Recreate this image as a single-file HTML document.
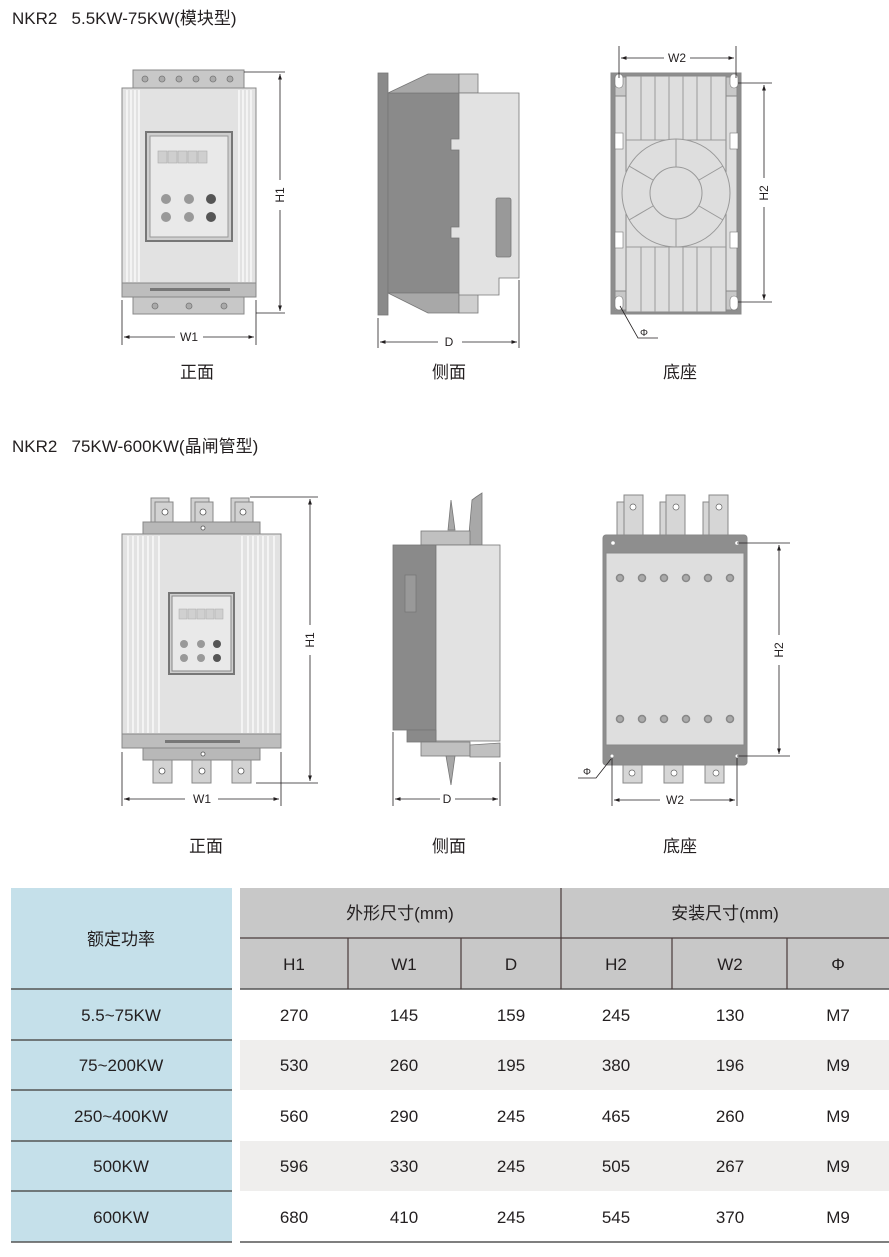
<!DOCTYPE html>
<html><head><meta charset="utf-8"><style>
html,body{margin:0;padding:0;background:#fff;}
body{width:889px;height:1252px;overflow:hidden;}
svg text{font-family:"Liberation Sans","Noto Sans CJK SC",sans-serif;fill:#231f20;}
</style></head><body>
<svg width="889" height="1252" viewBox="0 0 889 1252" xmlns="http://www.w3.org/2000/svg">
<defs>
<marker id="a" viewBox="0 0 10 10" refX="10" refY="5" markerWidth="7" markerHeight="7" orient="auto-start-reverse"><path d="M0,1.5L10,5L0,8.5z" fill="#231f20"/></marker>
</defs>
<!-- titles -->
<text x="12" y="24" font-size="17">NKR2&#160;&#160;&#160;5.5KW-75KW(模块型)</text>
<text x="12" y="452" font-size="17">NKR2&#160;&#160;&#160;75KW-600KW(晶闸管型)</text>

<!-- ===== TOP FRONT ===== -->
<g stroke="#888" stroke-width="1">
<rect x="133" y="70" width="111" height="19" fill="#c8c8c8"/>
<rect x="122" y="88" width="134" height="195" fill="#e2e2e2"/>
<rect x="122" y="283" width="134" height="14" fill="#bdbdbd"/>
<rect x="133" y="297" width="111" height="17" fill="#c8c8c8"/>
<rect x="146" y="132" width="86" height="109" fill="#cfcfcf" stroke="#777" stroke-width="2"/>
<rect x="150" y="136" width="78" height="101" fill="#e9e9e9" stroke="#999"/>
</g>
<g stroke="#fff" stroke-width="1.2">
<line x1="127" y1="90" x2="127" y2="282"/><line x1="131" y1="90" x2="131" y2="282"/><line x1="135" y1="90" x2="135" y2="282"/><line x1="139" y1="90" x2="139" y2="282"/>
<line x1="239" y1="90" x2="239" y2="282"/><line x1="243" y1="90" x2="243" y2="282"/><line x1="247" y1="90" x2="247" y2="282"/><line x1="251" y1="90" x2="251" y2="282"/>
</g>
<g fill="#aaa" stroke="#777" stroke-width="0.8">
<circle cx="145" cy="79" r="3"/><circle cx="162" cy="79" r="3"/><circle cx="179" cy="79" r="3"/><circle cx="196" cy="79" r="3"/><circle cx="213" cy="79" r="3"/><circle cx="230" cy="79" r="3"/>
<circle cx="155" cy="306" r="3"/><circle cx="189" cy="306" r="3"/><circle cx="224" cy="306" r="3"/>
</g>
<g fill="#cfcfcf" stroke="#aaa" stroke-width="0.6">
<rect x="158" y="151" width="9" height="12"/><rect x="168" y="151" width="9" height="12"/><rect x="178" y="151" width="9" height="12"/><rect x="188" y="151" width="9" height="12"/><rect x="198" y="151" width="9" height="12"/>
</g>
<g fill="#999"><circle cx="166" cy="199" r="5"/><circle cx="189" cy="199" r="5"/><circle cx="166" cy="217" r="5"/><circle cx="189" cy="217" r="5"/></g>
<g fill="#555"><circle cx="211" cy="199" r="5"/><circle cx="211" cy="217" r="5"/></g>
<rect x="150" y="288" width="80" height="3" fill="#777"/>
<!-- dims top front -->
<g stroke="#231f20" stroke-width="0.8" fill="none">
<line x1="244" y1="72" x2="285" y2="72"/><line x1="256" y1="313" x2="285" y2="313"/>
<line x1="280" y1="74" x2="280" y2="180" marker-start="url(#a)"/><line x1="280" y1="210" x2="280" y2="311" marker-end="url(#a)"/>
<line x1="122" y1="300" x2="122" y2="345"/><line x1="256" y1="300" x2="256" y2="345"/>
<line x1="124" y1="337" x2="175" y2="337" marker-start="url(#a)"/><line x1="203" y1="337" x2="254" y2="337" marker-end="url(#a)"/>
</g>
<text x="189" y="341" font-size="12" text-anchor="middle">W1</text>
<text x="0" y="0" font-size="12" text-anchor="middle" transform="translate(284,195) rotate(-90)">H1</text>

<!-- ===== TOP SIDE ===== -->
<g stroke="#777" stroke-width="0.8">
<rect x="378" y="73" width="10" height="242" fill="#8a8a8a"/>
<rect x="388" y="93" width="71" height="200" fill="#8a8a8a"/>
<polygon points="388,93 428,74 459,74 459,93" fill="#a8a8a8"/>
<rect x="459" y="74" width="19" height="19" fill="#cfcfcf"/>
<polygon points="388,293 428,313 459,313 459,293" fill="#a8a8a8"/>
<rect x="459" y="293" width="19" height="20" fill="#cfcfcf"/>
<polygon points="459,93 519,93 519,278 499,278 499,295 459,295 459,238 451,238 451,227 459,227 459,150 451,150 451,139 459,139" fill="#e2e2e2"/>
<rect x="496" y="198" width="15" height="59" rx="2" fill="#999"/>
</g>
<g stroke="#231f20" stroke-width="0.8" fill="none">
<line x1="378" y1="318" x2="378" y2="348"/><line x1="519" y1="280" x2="519" y2="348"/>
<line x1="380" y1="342" x2="438" y2="342" marker-start="url(#a)"/><line x1="462" y1="342" x2="517" y2="342" marker-end="url(#a)"/>
</g>
<text x="449" y="346" font-size="12" text-anchor="middle">D</text>

<!-- ===== TOP BASE ===== -->
<g stroke="#888" stroke-width="1">
<rect x="611" y="73" width="130" height="241" fill="#8e8e8e"/>
<rect x="615" y="77" width="122" height="233" fill="#c8c8c8"/>
<rect x="626" y="76" width="100" height="236" fill="#dedede"/>
<rect x="615" y="96" width="11" height="195" fill="#dedede"/>
<rect x="726" y="96" width="11" height="195" fill="#dedede"/>
</g>
<g stroke="#999" stroke-width="1">
<line x1="641" y1="76" x2="641" y2="140"/><line x1="655" y1="76" x2="655" y2="140"/><line x1="669" y1="76" x2="669" y2="140"/><line x1="683" y1="76" x2="683" y2="140"/><line x1="697" y1="76" x2="697" y2="140"/><line x1="711" y1="76" x2="711" y2="140"/>
<line x1="641" y1="247" x2="641" y2="312"/><line x1="655" y1="247" x2="655" y2="312"/><line x1="669" y1="247" x2="669" y2="312"/><line x1="683" y1="247" x2="683" y2="312"/><line x1="697" y1="247" x2="697" y2="312"/><line x1="711" y1="247" x2="711" y2="312"/>
<line x1="626" y1="140" x2="726" y2="140"/><line x1="626" y1="247" x2="726" y2="247"/>
<circle cx="676" cy="193" r="54" fill="#dedede"/>
<circle cx="676" cy="193" r="26" fill="#dedede"/>
<line x1="676" y1="139" x2="676" y2="167"/><line x1="676" y1="219" x2="676" y2="247"/>
<line x1="629" y1="166" x2="653" y2="180"/><line x1="723" y1="166" x2="699" y2="180"/>
<line x1="629" y1="220" x2="653" y2="206"/><line x1="723" y1="220" x2="699" y2="206"/>
</g>
<g fill="#fff" stroke="#777" stroke-width="0.6">
<rect x="615" y="74" width="8" height="14" rx="4"/><rect x="730" y="74" width="8" height="14" rx="4"/>
<rect x="615" y="296" width="8" height="14" rx="4"/><rect x="730" y="296" width="8" height="14" rx="4"/>
<rect x="615" y="133" width="8" height="16"/><rect x="730" y="133" width="8" height="16"/>
<rect x="615" y="232" width="8" height="16"/><rect x="730" y="232" width="8" height="16"/>
</g>
<g stroke="#231f20" stroke-width="0.8" fill="none">
<line x1="619" y1="46" x2="619" y2="78"/><line x1="736" y1="46" x2="736" y2="78"/>
<line x1="621" y1="58" x2="664" y2="58" marker-start="url(#a)"/><line x1="690" y1="58" x2="734" y2="58" marker-end="url(#a)"/>
<line x1="738" y1="83" x2="772" y2="83"/><line x1="738" y1="302" x2="772" y2="302"/>
<line x1="764" y1="85" x2="764" y2="178" marker-start="url(#a)"/><line x1="764" y1="207" x2="764" y2="300" marker-end="url(#a)"/>
<polyline points="658,338 638,338 620,306"/>
</g>
<text x="677" y="62" font-size="12" text-anchor="middle">W2</text>
<text x="0" y="0" font-size="12" text-anchor="middle" transform="translate(768,193) rotate(-90)">H2</text>
<text x="644" y="336" font-size="10" text-anchor="middle">Φ</text>

<text x="197" y="378" font-size="17" text-anchor="middle">正面</text>
<text x="449" y="378" font-size="17" text-anchor="middle">侧面</text>
<text x="680" y="378" font-size="17" text-anchor="middle">底座</text>

<!-- ===== BOTTOM FRONT ===== -->
<g stroke="#888" stroke-width="1" fill="#d2d2d2">
<rect x="151" y="498" width="18" height="26"/><rect x="155" y="502" width="18" height="22"/>
<rect x="191" y="498" width="18" height="26"/><rect x="195" y="502" width="18" height="22"/>
<rect x="231" y="498" width="18" height="26"/><rect x="235" y="502" width="18" height="22"/>
<rect x="143" y="522" width="117" height="12" fill="#b8b8b8"/>
<rect x="122" y="534" width="159" height="200" fill="#e2e2e2"/>
<rect x="122" y="734" width="159" height="14" fill="#bdbdbd"/>
<rect x="143" y="748" width="117" height="12" fill="#b8b8b8"/>
<rect x="153" y="760" width="19" height="23"/><rect x="192" y="760" width="19" height="23"/><rect x="232" y="760" width="19" height="23"/>
<rect x="169" y="593" width="65" height="81" fill="#cfcfcf" stroke="#777" stroke-width="2"/>
<rect x="172" y="596" width="59" height="75" fill="#e9e9e9"/>
</g>
<g stroke="#fff" stroke-width="1.2">
<line x1="128" y1="536" x2="128" y2="733"/><line x1="133" y1="536" x2="133" y2="733"/><line x1="138" y1="536" x2="138" y2="733"/><line x1="143" y1="536" x2="143" y2="733"/><line x1="148" y1="536" x2="148" y2="733"/><line x1="153" y1="536" x2="153" y2="733"/><line x1="159" y1="536" x2="159" y2="733"/>
<line x1="242" y1="536" x2="242" y2="733"/><line x1="248" y1="536" x2="248" y2="733"/><line x1="253" y1="536" x2="253" y2="733"/><line x1="258" y1="536" x2="258" y2="733"/><line x1="263" y1="536" x2="263" y2="733"/><line x1="268" y1="536" x2="268" y2="733"/><line x1="274" y1="536" x2="274" y2="733"/>
</g>
<g fill="#fff" stroke="#555" stroke-width="0.8">
<circle cx="165" cy="512" r="3"/><circle cx="203" cy="512" r="3"/><circle cx="243" cy="512" r="3"/>
<circle cx="203" cy="528" r="2"/><circle cx="203" cy="754" r="2"/>
<circle cx="162" cy="771" r="3"/><circle cx="202" cy="771" r="3"/><circle cx="241" cy="771" r="3"/>
</g>
<g fill="#d0d0d0" stroke="#aaa" stroke-width="0.5">
<rect x="179" y="609" width="8" height="10"/><rect x="188" y="609" width="8" height="10"/><rect x="197" y="609" width="8" height="10"/><rect x="206" y="609" width="8" height="10"/><rect x="215" y="609" width="8" height="10"/>
</g>
<g fill="#999"><circle cx="184" cy="644" r="4"/><circle cx="201" cy="644" r="4"/><circle cx="184" cy="658" r="4"/><circle cx="201" cy="658" r="4"/></g>
<g fill="#555"><circle cx="217" cy="644" r="4"/><circle cx="217" cy="658" r="4"/></g>
<rect x="165" y="740" width="75" height="3" fill="#777"/>
<g stroke="#231f20" stroke-width="0.8" fill="none">
<line x1="250" y1="497" x2="318" y2="497"/><line x1="256" y1="783" x2="318" y2="783"/>
<line x1="310" y1="499" x2="310" y2="625" marker-start="url(#a)"/><line x1="310" y1="655" x2="310" y2="781" marker-end="url(#a)"/>
<line x1="122" y1="752" x2="122" y2="806"/><line x1="281" y1="752" x2="281" y2="806"/>
<line x1="124" y1="799" x2="185" y2="799" marker-start="url(#a)"/><line x1="218" y1="799" x2="279" y2="799" marker-end="url(#a)"/>
</g>
<text x="202" y="803" font-size="12" text-anchor="middle">W1</text>
<text x="0" y="0" font-size="12" text-anchor="middle" transform="translate(314,640) rotate(-90)">H1</text>

<!-- ===== BOTTOM SIDE ===== -->
<g stroke="#777" stroke-width="0.8">
<polygon points="448,530 451,500 455,530" fill="#a8a8a8"/>
<polygon points="468,545 472,500 476,497 482,493 482,545" fill="#a8a8a8"/>
<rect x="421" y="531" width="49" height="14" fill="#c0c0c0"/>
<rect x="393" y="545" width="43" height="185" fill="#8a8a8a"/>
<rect x="436" y="545" width="64" height="196" fill="#e2e2e2"/>
<rect x="405" y="575" width="11" height="37" fill="#999"/>
<rect x="407" y="730" width="29" height="12" fill="#8a8a8a"/>
<rect x="421" y="742" width="49" height="14" fill="#c0c0c0"/>
<polygon points="470,745 500,743 500,757 470,757" fill="#c0c0c0"/>
<polygon points="446,756 451,785 455,756" fill="#a8a8a8"/>
</g>
<g stroke="#231f20" stroke-width="0.8" fill="none">
<line x1="393" y1="732" x2="393" y2="806"/><line x1="500" y1="762" x2="500" y2="806"/>
<line x1="395" y1="799" x2="440" y2="799" marker-start="url(#a)"/><line x1="455" y1="799" x2="498" y2="799" marker-end="url(#a)"/>
</g>
<text x="447" y="803" font-size="12" text-anchor="middle">D</text>

<!-- ===== BOTTOM BASE ===== -->
<g stroke="#888" stroke-width="1" fill="#d6d6d6">
<rect x="617" y="502" width="16" height="33"/><rect x="624" y="495" width="19" height="40"/>
<rect x="660" y="502" width="16" height="33"/><rect x="666" y="495" width="19" height="40"/>
<rect x="703" y="502" width="16" height="33"/><rect x="709" y="495" width="19" height="40"/>
<rect x="603" y="535" width="144" height="230" rx="3" fill="#8e8e8e"/>
<rect x="606" y="553" width="138" height="192" fill="#dedede"/>
<rect x="623" y="765" width="19" height="18"/><rect x="664" y="765" width="19" height="18"/><rect x="705" y="765" width="19" height="18"/>
</g>
<g fill="#fff" stroke="#666" stroke-width="0.7">
<circle cx="633" cy="507" r="3"/><circle cx="676" cy="507" r="3"/><circle cx="719" cy="507" r="3"/>
<circle cx="632" cy="773" r="3"/><circle cx="674" cy="773" r="3"/><circle cx="716" cy="773" r="3"/>
</g>
<g fill="#aaa" stroke="#888" stroke-width="1.5">
<circle cx="620" cy="578" r="3.5"/><circle cx="642" cy="578" r="3.5"/><circle cx="664" cy="578" r="3.5"/><circle cx="686" cy="578" r="3.5"/><circle cx="708" cy="578" r="3.5"/><circle cx="730" cy="578" r="3.5"/>
<circle cx="620" cy="719" r="3.5"/><circle cx="642" cy="719" r="3.5"/><circle cx="664" cy="719" r="3.5"/><circle cx="686" cy="719" r="3.5"/><circle cx="708" cy="719" r="3.5"/><circle cx="730" cy="719" r="3.5"/>
</g>
<g fill="#fff"><circle cx="613" cy="543" r="1.8"/><circle cx="737" cy="543" r="1.8"/><circle cx="612" cy="756" r="1.5"/><circle cx="737" cy="756" r="1.5"/></g>
<g stroke="#231f20" stroke-width="0.8" fill="none">
<line x1="737" y1="543" x2="790" y2="543"/><line x1="737" y1="756" x2="790" y2="756"/>
<line x1="779" y1="545" x2="779" y2="635" marker-start="url(#a)"/><line x1="779" y1="665" x2="779" y2="754" marker-end="url(#a)"/>
<line x1="612" y1="758" x2="612" y2="806"/><line x1="737" y1="758" x2="737" y2="806"/>
<line x1="614" y1="800" x2="660" y2="800" marker-start="url(#a)"/><line x1="690" y1="800" x2="735" y2="800" marker-end="url(#a)"/>
<polyline points="578,778 596,778 611,759"/>
</g>
<text x="675" y="804" font-size="12" text-anchor="middle">W2</text>
<text x="0" y="0" font-size="12" text-anchor="middle" transform="translate(783,650) rotate(-90)">H2</text>
<text x="587" y="775" font-size="10" text-anchor="middle">Φ</text>

<text x="206" y="852" font-size="17" text-anchor="middle">正面</text>
<text x="449" y="852" font-size="17" text-anchor="middle">侧面</text>
<text x="680" y="852" font-size="17" text-anchor="middle">底座</text>

<!-- ===== TABLE ===== -->
<rect x="11" y="888" width="221" height="354" fill="#c5e0ea"/>
<rect x="240" y="888" width="649" height="101" fill="#c8c8c8"/>
<rect x="240" y="1040" width="649" height="50" fill="#efeeed"/>
<rect x="240" y="1141" width="649" height="50" fill="#efeeed"/>
<g stroke="#555" stroke-width="1.5">
<line x1="11" y1="989" x2="232" y2="989"/><line x1="11" y1="1040" x2="232" y2="1040"/><line x1="11" y1="1090" x2="232" y2="1090"/><line x1="11" y1="1141" x2="232" y2="1141"/><line x1="11" y1="1191" x2="232" y2="1191"/><line x1="11" y1="1242" x2="232" y2="1242"/>
<line x1="240" y1="989" x2="889" y2="989"/><line x1="240" y1="1242" x2="889" y2="1242"/>
</g>
<g stroke="#4a3b3b" stroke-width="1.2">
<line x1="240" y1="938" x2="889" y2="938"/>
<line x1="561" y1="888" x2="561" y2="989"/>
<line x1="348" y1="938" x2="348" y2="989"/><line x1="461" y1="938" x2="461" y2="989"/><line x1="672" y1="938" x2="672" y2="989"/><line x1="787" y1="938" x2="787" y2="989"/>
</g>
<g font-size="17" text-anchor="middle">
<text x="121" y="945">额定功率</text>
<text x="400" y="919">外形尺寸(mm)</text>
<text x="725" y="919">安装尺寸(mm)</text>
<text x="294" y="970">H1</text><text x="404" y="970">W1</text><text x="511" y="970">D</text><text x="616" y="970">H2</text><text x="730" y="970">W2</text><text x="838" y="970">Φ</text>
<text x="121" y="1021">5.5~75KW</text><text x="294" y="1021">270</text><text x="404" y="1021">145</text><text x="511" y="1021">159</text><text x="616" y="1021">245</text><text x="730" y="1021">130</text><text x="838" y="1021">M7</text>
<text x="121" y="1071">75~200KW</text><text x="294" y="1071">530</text><text x="404" y="1071">260</text><text x="511" y="1071">195</text><text x="616" y="1071">380</text><text x="730" y="1071">196</text><text x="838" y="1071">M9</text>
<text x="121" y="1122">250~400KW</text><text x="294" y="1122">560</text><text x="404" y="1122">290</text><text x="511" y="1122">245</text><text x="616" y="1122">465</text><text x="730" y="1122">260</text><text x="838" y="1122">M9</text>
<text x="121" y="1172">500KW</text><text x="294" y="1172">596</text><text x="404" y="1172">330</text><text x="511" y="1172">245</text><text x="616" y="1172">505</text><text x="730" y="1172">267</text><text x="838" y="1172">M9</text>
<text x="121" y="1223">600KW</text><text x="294" y="1223">680</text><text x="404" y="1223">410</text><text x="511" y="1223">245</text><text x="616" y="1223">545</text><text x="730" y="1223">370</text><text x="838" y="1223">M9</text>
</g>
</svg>
</body></html>
